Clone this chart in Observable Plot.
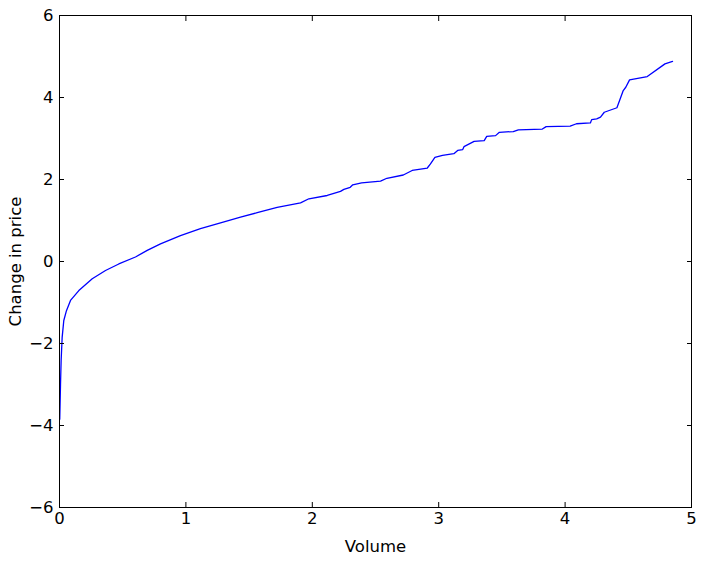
<!DOCTYPE html>
<html>
<head>
<meta charset="utf-8">
<script src="https://cdn.jsdelivr.net/npm/d3@7"></script>
<script src="https://cdn.jsdelivr.net/npm/@observablehq/plot@0.6"></script>
<style>
  html, body { margin: 0; padding: 0; background: #fff; }
  #chart svg { display: block; }
</style>
</head>
<body>
<div id="chart"></div>
<script>
const volume = [0.002, 0.008, 0.013, 0.021, 0.034, 0.055, 0.087, 0.153, 0.259, 0.364, 0.469, 0.601, 0.694,
  0.799, 0.957, 1.115, 1.274, 1.432, 1.564, 1.722, 1.907, 1.973, 2.118, 2.223, 2.25, 2.30, 2.32, 2.39,
  2.54, 2.59, 2.72, 2.79, 2.91, 2.935, 2.97, 3.03, 3.12, 3.15, 3.19, 3.20, 3.28, 3.36, 3.38, 3.45,
  3.48, 3.59, 3.63, 3.82, 3.85, 4.04, 4.09, 4.20, 4.21, 4.25, 4.28, 4.31, 4.41, 4.46, 4.48, 4.51,
  4.65, 4.79, 4.85];
const change = [-3.85, -3.0, -2.41, -1.85, -1.44, -1.20, -0.95, -0.71, -0.42, -0.22, -0.06, 0.11, 0.27,
  0.43, 0.63, 0.80, 0.94, 1.08, 1.19, 1.32, 1.43, 1.53, 1.61, 1.71, 1.76, 1.81, 1.87, 1.92,
  1.96, 2.03, 2.11, 2.22, 2.28, 2.38, 2.54, 2.59, 2.63, 2.71, 2.73, 2.80, 2.93, 2.95, 3.05, 3.07,
  3.15, 3.17, 3.21, 3.23, 3.29, 3.30, 3.36, 3.38, 3.46, 3.48, 3.52, 3.64, 3.75, 4.17, 4.25, 4.43,
  4.51, 4.82, 4.88];
const xTicks = [0, 1, 2, 3, 4, 5];
const yTicks = [-6, -4, -2, 0, 2, 4, 6];
const xLabel = "Volume";
const yLabel = "Change in price";

const data = volume.map((v, i) => ({volume: v, change: change[i]}));
const fmt = d => String(d).replace("-", "\u2212");

const chart = Plot.plot({
  width: 723,
  height: 568,
  marginLeft: 59,
  marginRight: 32,
  marginTop: 15,
  marginBottom: 61,
  style: {fontFamily: "DejaVu Sans", fontSize: "16.5px", color: "black", background: "white"},
  x: {domain: [0, 5], axis: null},
  y: {domain: [-6, 6], axis: null},
  marks: [
    Plot.line(data, {x: "volume", y: "change", stroke: "#0000ff", strokeWidth: 1.3}),
    Plot.axisX(xTicks, {anchor: "bottom", tickSize: -5, tickFormat: () => "", label: null, strokeWidth: 1}),
    Plot.axisX(xTicks, {anchor: "top", tickSize: -5, tickFormat: () => "", label: null, strokeWidth: 1}),
    Plot.axisY(yTicks, {anchor: "left", tickSize: -5, tickFormat: () => "", label: null, strokeWidth: 1}),
    Plot.axisY(yTicks, {anchor: "right", tickSize: -5, tickFormat: () => "", label: null, strokeWidth: 1}),
    Plot.axisX(xTicks, {anchor: "bottom", tickSize: 0, tickPadding: 5, tickFormat: fmt, label: null, fill: "black"}),
    Plot.axisY(yTicks, {anchor: "left", tickSize: 0, tickPadding: 6, tickFormat: fmt, label: null, fill: "black"}),
    Plot.frame({stroke: "black", strokeWidth: 1}),
    Plot.text([xLabel], {frameAnchor: "bottom", dy: 39, text: d => d, fill: "black", textAnchor: "middle", lineAnchor: "middle"}),
    Plot.text([yLabel], {frameAnchor: "left", dx: -44, rotate: -90, text: d => d, fill: "black", textAnchor: "middle", lineAnchor: "middle"})
  ]
});
document.getElementById("chart").appendChild(chart);
</script>
</body>
</html>
